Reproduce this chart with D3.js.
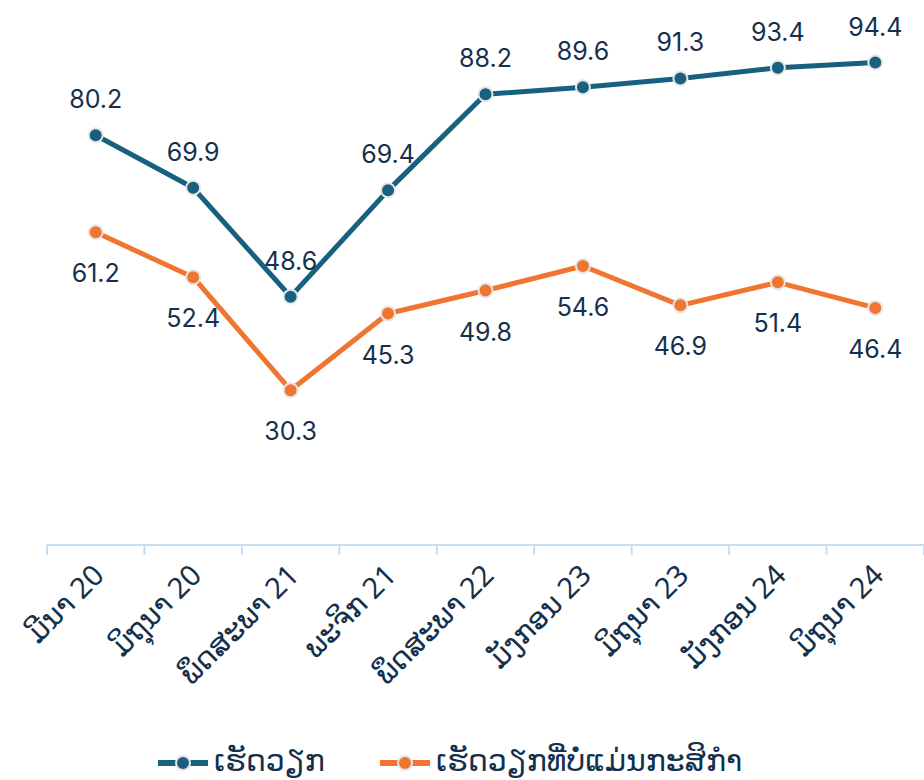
<!DOCTYPE html>
<html><head><meta charset="utf-8">
<script src="https://cdn.jsdelivr.net/npm/d3@7"></script>
<style>body{margin:0;background:#fff}svg{display:block}</style>
</head><body>
<svg id="c" width="924" height="780"></svg>
<script>
const categories = ["ມີນາ 20","ມິຖຸນາ 20","ພຶດສະພາ 21","ພະຈິກ 21","ພຶດສະພາ 22","ມັງກອນ 23","ມິຖຸນາ 23","ມັງກອນ 24","ມິຖຸນາ 24"];
const employed = [80.2,69.9,48.6,69.4,88.2,89.6,91.3,93.4,94.4];
const nonAgri = [61.2,52.4,30.3,45.3,49.8,54.6,46.9,51.4,46.4];
const seriesNames = ["ເຮັດວຽກ","ເຮັດວຽກທີ່ບໍ່ແມ່ນກະສິກຳ"];
const colors = ["#17607f","#f07530"];

const svg = d3.select("#c");
const FONT = "Inter, Roboto, 'Noto Sans', 'DejaVu Sans', sans-serif";
const LFONT = "'Noto Sans', 'DejaVu Sans', sans-serif";
const x = d3.scaleBand().domain(categories).range([47, 924]);
const y = d3.scaleLinear().domain([0, 100]).range([545, 34]);
const cx = d => x(d) + x.bandwidth()/2;

svg.append("line").attr("x1",47).attr("x2",924).attr("y1",545).attr("y2",545)
  .attr("stroke","#c9ddf2").attr("stroke-width",2);
const edges = categories.map(c => x(c)).concat([x(categories[categories.length-1]) + x.bandwidth()]);
svg.selectAll(".tk").data(edges).enter().append("line")
  .attr("x1",d=>d).attr("x2",d=>d).attr("y1",545).attr("y2",555)
  .attr("stroke","#c9ddf2").attr("stroke-width",2);

svg.selectAll(".xl").data(categories).enter().append("text")
  .attr("transform", d => `translate(${cx(d)+10},${577}) rotate(-45)`)
  .attr("text-anchor","end")
  .attr("font-family", LFONT).attr("font-size", 29).attr("fill","#14304d")
  .text(d => d);

const line = d3.line().x((d,i)=>cx(categories[i])).y(d=>y(d));
[employed, nonAgri].forEach((s, k) => {
  svg.append("path").datum(s).attr("d", line).attr("fill","none")
    .attr("stroke", colors[k]).attr("stroke-width",5).attr("stroke-linejoin","round");
});
[employed, nonAgri].forEach((s, k) => {
  svg.selectAll(".m"+k).data(s).enter().append("circle")
    .attr("cx",(d,i)=>cx(categories[i])).attr("cy",d=>y(d)).attr("r",7)
    .attr("fill",colors[k]).attr("stroke","#e6e6e6").attr("stroke-width",2);
  svg.selectAll(".l"+k).data(s).enter().append("text")
    .attr("x",(d,i)=>cx(categories[i])).attr("y",d=>y(d) + (k===0 ? -27 : 50))
    .attr("text-anchor","middle").attr("font-family",FONT).attr("font-size",25)
    .attr("fill","#14304d").text(d=>d.toFixed(1));
});

const legX = [158, 380];
seriesNames.forEach((n,k) => {
  const g = svg.append("g").attr("transform",`translate(${legX[k]},763)`);
  g.append("line").attr("x1",0).attr("x2",50).attr("y1",0).attr("y2",0)
    .attr("stroke",colors[k]).attr("stroke-width",6);
  g.append("circle").attr("cx",25).attr("cy",0).attr("r",7)
    .attr("fill",colors[k]).attr("stroke","#e6e6e6").attr("stroke-width",2);
  g.append("text").attr("x",56).attr("y",8).attr("font-family",LFONT)
    .attr("font-size",30).attr("fill","#14304d").text(n);
});
</script>
</body></html>
